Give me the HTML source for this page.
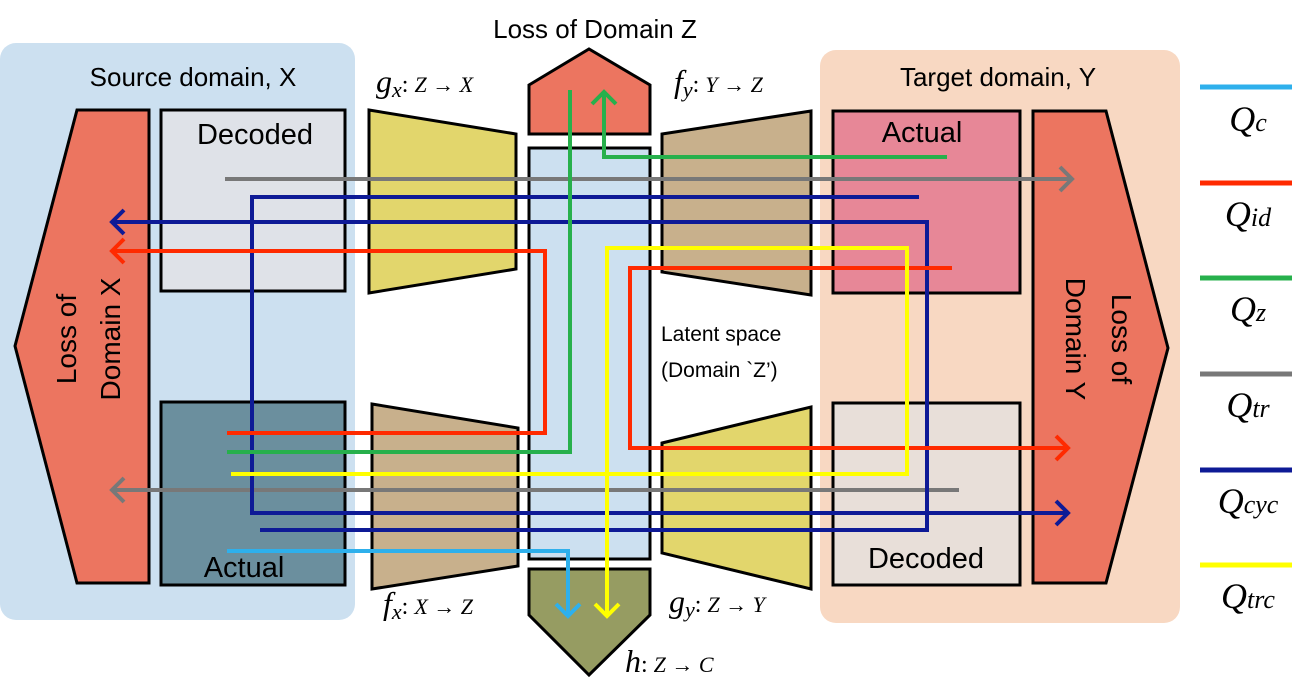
<!DOCTYPE html>
<html><head><meta charset="utf-8"><style>
html,body{margin:0;padding:0;background:#fff;}
svg{display:block;}
text{font-family:"Liberation Sans",sans-serif;}
.m{font-family:"Liberation Serif",serif;font-style:italic;}
</style></head><body>
<svg width="1292" height="684" viewBox="0 0 1292 684" xmlns="http://www.w3.org/2000/svg">
<rect x="0" y="43" width="355" height="577" rx="16" fill="#cce0f0"/>
<rect x="820" y="50" width="360" height="573" rx="16" fill="#f8d8c2"/>
<g stroke="#000" stroke-width="3">
<polygon points="77,110 149,110 149,583 77,583 15,346" fill="#ec7560"/>
<rect x="161" y="110" width="184" height="181" fill="#dfe2e8"/>
<rect x="161" y="402" width="184" height="183" fill="#6b8f9e"/>
<polygon points="369,110 516,134 516,269 369,293" fill="#e2d66c"/>
<polygon points="372,404 518,428 518,566 372,589" fill="#c8b08c"/>
<rect x="529" y="148" width="121" height="411" fill="#cce0f0"/>
<polygon points="529,85 589,49 650,85 650,134 529,134" fill="#ec7560"/>
<polygon points="529,569 650,569 650,615 589,675 529,615" fill="#969c62"/>
<polygon points="662,134 811,111 811,295 662,272" fill="#c8b08c"/>
<polygon points="662,443 811,407 811,589 662,553" fill="#e2d66c"/>
<rect x="833" y="111" width="187" height="182" fill="#e78797"/>
<rect x="833" y="403" width="187" height="182" fill="#e8dfd9"/>
<polygon points="1033,111 1106,111 1168,348 1106,583 1033,583" fill="#ec7560"/>
</g>
<g fill="none" stroke-width="4">
<path d="M225,179 H1072" stroke="#787878"/><path d="M1060,167 L1072,179 L1060,191" stroke="#787878"/>
<path d="M959,490 H112" stroke="#787878"/><path d="M124,478 L112,490 L124,502" stroke="#787878"/>
<path d="M919,197 H252 V513 H1068" stroke="#0e1a96"/><path d="M1056,501 L1068,513 L1056,525" stroke="#0e1a96"/>
<path d="M112,222 H927 V530 H260" stroke="#0e1a96"/><path d="M124,210 L112,222 L124,234" stroke="#0e1a96"/>
<path d="M112,251 H545 V433 H227" stroke="#ff2a00"/><path d="M124,239 L112,251 L124,263" stroke="#ff2a00"/>
<path d="M952,268 H630 V448 H1068" stroke="#ff2a00"/><path d="M1056,436 L1068,448 L1056,460" stroke="#ff2a00"/>
<path d="M227,452 H570 V90" stroke="#27b04c"/>
<path d="M947,157 H604 V92" stroke="#27b04c"/><path d="M592,104 L604,92 L616,104" stroke="#27b04c"/>
<path d="M231,474 H907 V248 H607 V616" stroke="#ffff00"/><path d="M595,604 L607,616 L619,604" stroke="#ffff00"/>
<path d="M227,551 H568 V616" stroke="#2eb0ec"/><path d="M556,604 L568,616 L580,604" stroke="#2eb0ec"/>
</g>
<g stroke-width="5">
<line x1="1200" y1="87" x2="1292" y2="87" stroke="#2eb0ec"/>
<line x1="1200" y1="183" x2="1292" y2="183" stroke="#ff2a00"/>
<line x1="1200" y1="278" x2="1292" y2="278" stroke="#27b04c"/>
<line x1="1200" y1="374" x2="1292" y2="374" stroke="#787878"/>
<line x1="1200" y1="470" x2="1292" y2="470" stroke="#0e1a96"/>
<line x1="1200" y1="565" x2="1292" y2="565" stroke="#ffff00"/>
</g>
<g text-anchor="middle">
<text x="1248" y="131" class="m" font-size="36">Q<tspan font-size="26">c</tspan></text>
<text x="1248" y="226" class="m" font-size="36">Q<tspan font-size="26">id</tspan></text>
<text x="1248" y="321" class="m" font-size="36">Q<tspan font-size="26">z</tspan></text>
<text x="1248" y="417" class="m" font-size="36">Q<tspan font-size="26">tr</tspan></text>
<text x="1248" y="513" class="m" font-size="36">Q<tspan font-size="26">cyc</tspan></text>
<text x="1248" y="608" class="m" font-size="36">Q<tspan font-size="26">trc</tspan></text>
</g>
<g font-size="26" fill="#000">
<text x="595" y="38" text-anchor="middle">Loss of Domain Z</text>
<text x="193" y="86" text-anchor="middle">Source domain, X</text>
<text x="998" y="86" text-anchor="middle">Target domain, Y</text>
<text x="255" y="144" text-anchor="middle" font-size="29">Decoded</text>
<text x="244" y="577" text-anchor="middle" font-size="29">Actual</text>
<text x="922" y="142" text-anchor="middle" font-size="29">Actual</text>
<text x="926" y="568" text-anchor="middle" font-size="29">Decoded</text>
<text x="661" y="341" font-size="21">Latent space</text>
<text x="661" y="377" font-size="21">(Domain `Z’)</text>
<text transform="translate(76,339) rotate(-90)" text-anchor="middle" font-size="28">Loss of</text>
<text transform="translate(120,339) rotate(-90)" text-anchor="middle" font-size="28">Domain X</text>
<text transform="translate(1112,339) rotate(90)" text-anchor="middle" font-size="28">Loss of</text>
<text transform="translate(1066,339) rotate(90)" text-anchor="middle" font-size="28">Domain Y</text>
</g>
<g fill="#000">
<text x="376" y="92" class="m" font-size="32">g<tspan font-size="22" dy="5">x</tspan><tspan dy="-5" font-size="24" font-style="normal">: </tspan><tspan font-size="22">Z → X</tspan></text>
<text x="674" y="92" class="m" font-size="32">f<tspan font-size="22" dy="5">y</tspan><tspan dy="-5" font-size="24" font-style="normal">: </tspan><tspan font-size="22">Y → Z</tspan></text>
<text x="383" y="614" class="m" font-size="32">f<tspan font-size="22" dy="5">x</tspan><tspan dy="-5" font-size="24" font-style="normal">: </tspan><tspan font-size="22">X → Z</tspan></text>
<text x="669" y="612" class="m" font-size="32">g<tspan font-size="22" dy="5">y</tspan><tspan dy="-5" font-size="24" font-style="normal">: </tspan><tspan font-size="22">Z → Y</tspan></text>
<text x="625" y="672" class="m" font-size="32">h<tspan font-size="24" font-style="normal">: </tspan><tspan font-size="22">Z → C</tspan></text>
</g>
</svg>
</body></html>
